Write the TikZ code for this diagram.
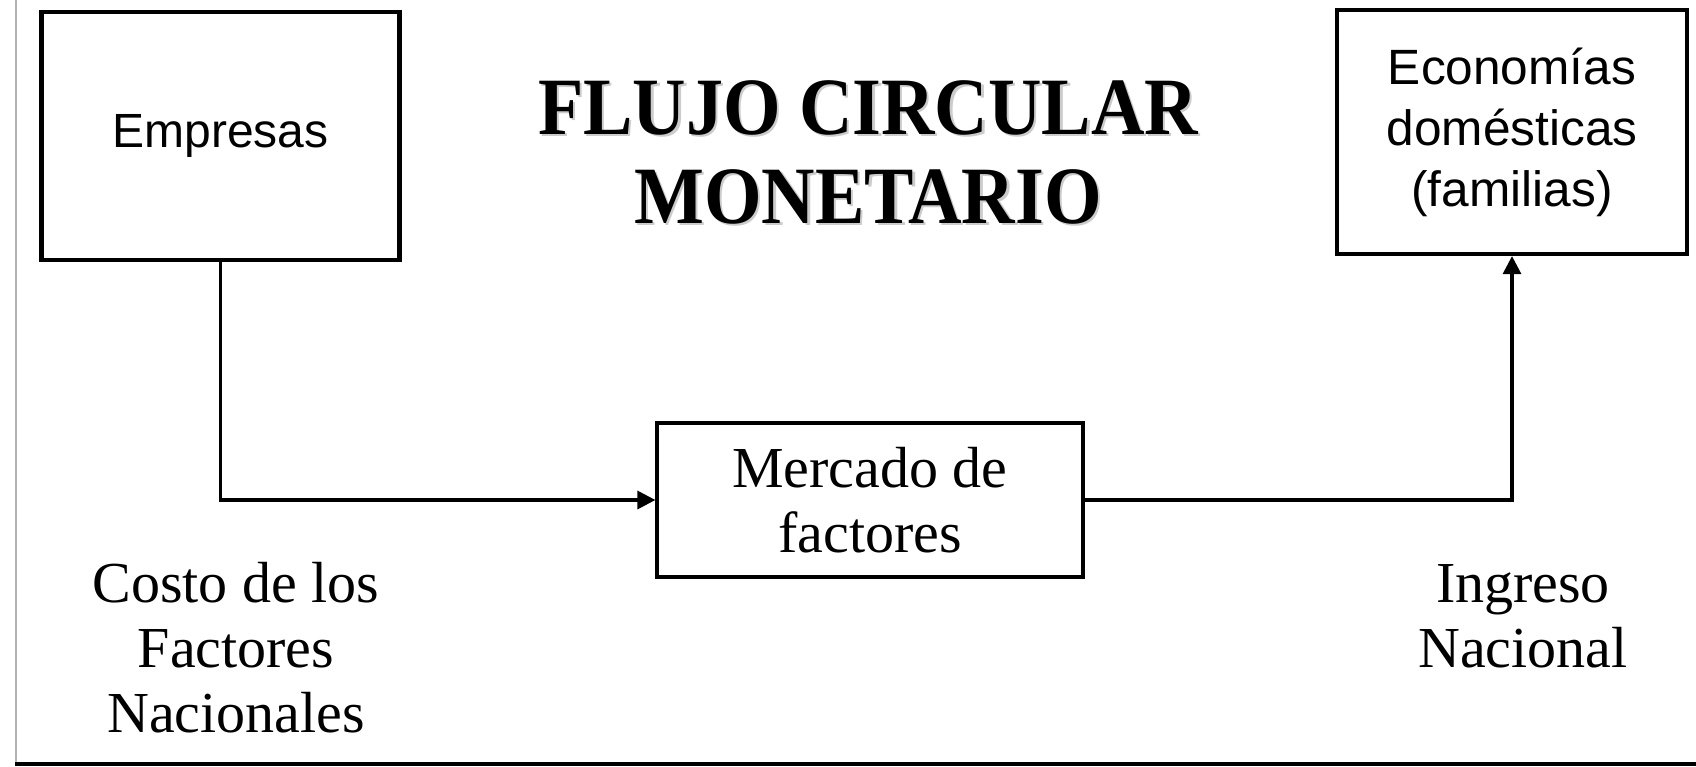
\documentclass[tikz,border=0pt]{standalone}
\usepackage{fontspec}
\setmainfont{Liberation Serif}
\newfontfamily\arialf{Liberation Sans}
\usepackage{tikz}
\usetikzlibrary{arrows.meta,positioning,calc,shadows}

\tikzset{
  caja/.style={draw, fill=white, line width=2.1pt, align=center, inner sep=0pt,
    drop shadow={shadow xshift=1.1pt, shadow yshift=-1.1pt, fill=black, opacity=1}},
  flujo/.style={line width=1.6pt, -{Triangle[length=9pt,width=9pt]}},
  rotulo/.style={align=center, font=\fontsize{29}{32.5}\selectfont}
}

\begin{document}
\begin{tikzpicture}[x=0.5pt,y=-0.5pt]
	\useasboundingbox (0,0) rectangle (1696,766);
	% marco
	\draw[gray!60, line width=1pt] (16,0) -- (16,764);
	\draw[line width=1.6pt] (15,764) -- (1696,764);
	% titulo
	\node[gray!40, align=center, font=\fontsize{37}{44.5}\selectfont\bfseries] at (870.5,154.5) {\scalebox{1}[1.1]{FLUJO CIRCULAR}\\\scalebox{1}[1.1]{MONETARIO}};
	\node (titulo) [align=center, font=\fontsize{37}{44.5}\selectfont\bfseries] at (868,152) {\scalebox{1}[1.1]{FLUJO CIRCULAR}\\\scalebox{1}[1.1]{MONETARIO}};
	% cajas
	\node (emp) [caja, minimum width=179pt, minimum height=124pt, font=\arialf\fontsize{24}{29}\selectfont] at (220.5,136) {Empresas};
	\node (eco) [caja, minimum width=175pt, minimum height=122pt, font=\arialf\fontsize{24.8}{30.5}\selectfont] at (1512,132) {Economías\\domésticas\\(familias)};
	\node (mer) [caja, line width=1.6pt, minimum width=213pt, minimum height=77pt, font=\fontsize{29}{32.5}\selectfont] at (870,500) {Mercado de\\factores};
	% flechas
	\draw[flujo] (emp.south) |- (mer.west);
	\draw[flujo] (mer.east) -| (eco.south);
	% rotulos
	\node (costo) [rotulo] at (236,648) {Costo de los\\Factores\\Nacionales};
	\node (ingreso) [rotulo] at (1523,616) {Ingreso\\Nacional};
\end{tikzpicture}
\end{document}
